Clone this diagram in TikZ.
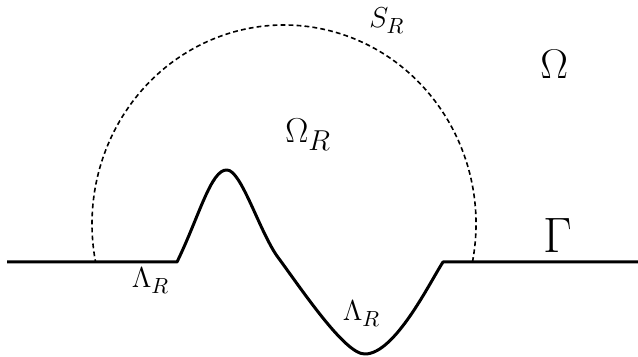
\documentclass[tikz,border=0pt]{standalone}
\usepackage{amsmath,amssymb}
\usepackage{tikz}
\usetikzlibrary{calc}

\tikzset{
  bdry/.style={line width=1.5pt,line join=round},
  sphere/.style={line width=0.8pt,dash pattern=on 2.4pt off 1.6pt},
  lbl/.style={inner sep=0pt,anchor=base west}
}

\begin{document}
\begin{tikzpicture}[x=0.5pt,y=0.5pt]
  \useasboundingbox (0,0) rectangle (638,357);
  % points of the boundary
  \coordinate (west) at (7,95);
  \coordinate (A) at (177,95);
  \coordinate (P) at (227,187);
  \coordinate (K) at (277,101);
  \coordinate (B) at (365,3);
  \coordinate (C) at (443,95);
  \coordinate (east) at (638,95);
  \draw[bdry] (west) -- (A)
    .. controls (199,140) and (211,188) .. (P)
    .. controls (241,187) and (259,127) .. (K)
    .. controls (300,70) and (345,2) .. (B)
    .. controls (395,3) and (430,75) .. (C) -- (east);
  % the arc S_R
  \coordinate (O) at (284,133);
  \draw[sphere] ($(O)+(-11:192 and 199)$) arc[start angle=-11,end angle=191,x radius=192,y radius=199];
  % labels
  \node[lbl,font=\fontsize{15}{18}\selectfont] (sR) at (369,329) {$S_R$};
  \node[lbl,font=\fontsize{19}{23}\selectfont] (omegaR) at (285,214) {$\Omega_R$};
  \node[lbl,font=\fontsize{21.5}{26}\selectfont] (omega) at (540,278) {$\Omega$};
  \node[lbl,font=\fontsize{23}{28}\selectfont] (gamma) at (543,104) {$\Gamma$};
  \node[lbl,font=\fontsize{15}{18}\selectfont] (lambdaL) at (131.5,69) {$\Lambda_R$};
  \node[lbl,font=\fontsize{15}{18}\selectfont] (lambdaR) at (342.5,36) {$\Lambda_R$};
\end{tikzpicture}
\end{document}
